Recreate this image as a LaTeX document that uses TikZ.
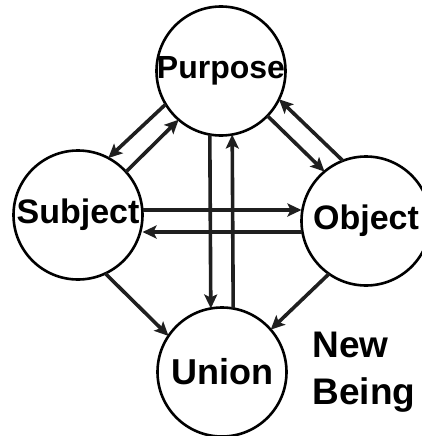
\documentclass[tikz,border=0pt]{standalone}
\usepackage{fontspec}
\setmainfont{Liberation Sans}
\usepackage{tikz}
\usetikzlibrary{arrows.meta,positioning}

\begin{document}
\begin{tikzpicture}[x=1pt, y=-1pt,
  circ/.style={draw, circle, line width=2.6pt, minimum size=129pt,
    inner sep=-12pt, outer sep=0pt, font=\bfseries},
  arr/.style={line width=3.6pt, black!88,
    -{Stealth[length=14pt, width=13pt, inset=3pt]}},
  label/.style={font=\fontsize{37}{47}\selectfont\bfseries, align=left,
    inner sep=0pt}
]
\useasboundingbox (0,0) rectangle (421,436);

% Circles
\node[circ, font=\fontsize{32}{38}\selectfont\bfseries] (purpose) at (221,71) {Purpose};
\node[circ, font=\fontsize{34}{40}\selectfont\bfseries] (subject) at (78,215) {Subject};
\node[circ, font=\fontsize{34}{40}\selectfont\bfseries] (object) at (366,221) {Object};
\node[circ, font=\fontsize{36}{42}\selectfont\bfseries] (union) at (222,372) {Union};

% Label
\node[label, right=26pt of union] (newbeing) {New\\Being};

% Subject -- Purpose
\draw[arr] (purpose.211) -- (subject.62);
\draw[arr] (subject.42) -- (purpose.229);

% Purpose -- Object
\draw[arr] (purpose.316) -- (object.130);
\draw[arr] (object.111) -- (purpose.334);

% Purpose -- Union
\draw[arr] (purpose.260) -- (union.100);
\draw[arr] (union.80) -- (purpose.280);

% Subject -- Object
\draw[arr] ([yshift=5pt]subject.east) -- ([yshift=11pt]object.west);
\draw[arr] ([yshift=-11pt]object.west) -- ([yshift=-17pt]subject.east);

% To the union
\draw[arr] (subject.295) -- (union.146);
\draw[arr] (object.235) -- (union.41);

\end{tikzpicture}
\end{document}
